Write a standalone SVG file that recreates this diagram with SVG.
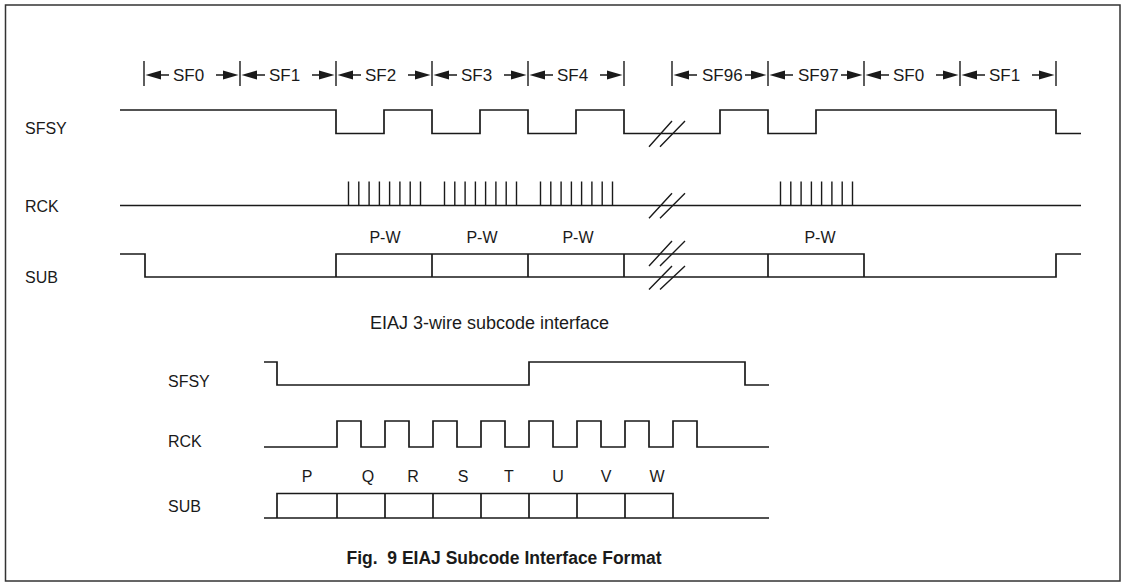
<svg xmlns="http://www.w3.org/2000/svg" width="1126" height="586" viewBox="0 0 1126 586">
<style>
  .w{fill:none;stroke:#1a1a1a;stroke-width:1.7;stroke-linejoin:miter}
  .t{fill:none;stroke:#1a1a1a;stroke-width:1.4}
  .ah{fill:#1a1a1a}
  text{font-family:"Liberation Sans",Arial,sans-serif;font-size:16px;fill:#1a1a1a}
  .sf{font-size:17px}
  .big{font-size:18px}
  .cap{font-weight:bold;font-size:17.5px}
</style>
<defs>
  <polygon id="al" points="1.5,0 17,-4.5 17,4.5"/>
  <polygon id="ar" points="-1.5,0 -17,-4.5 -17,4.5"/>
</defs>
<rect x="5.5" y="5" width="1114.5" height="576" fill="#fff" stroke="#333" stroke-width="1.5"/>

<g id="sf-ruler">
  <g class="t">
    <path d="M144,61V86M240,61V86M336,61V86M432,61V86M528,61V86M624,61V86M672,61V86M768,61V86M864,61V86M960,61V86M1056,61V86"/>
    <path d="M161,75H169M216,75H223M257,75H265M312,75H319M353,75H361M408,75H415M449,75H457M504,75H511M545,75H553M600,75H607M689,75H697M745,75H751M785,75H793M841,75H847M881,75H889M936,75H943M977,75H985M1032,75H1039"/>
  </g>
  <g class="ah">
    <use href="#al" x="144" y="75"/><use href="#ar" x="240" y="75"/>
    <use href="#al" x="240" y="75"/><use href="#ar" x="336" y="75"/>
    <use href="#al" x="336" y="75"/><use href="#ar" x="432" y="75"/>
    <use href="#al" x="432" y="75"/><use href="#ar" x="528" y="75"/>
    <use href="#al" x="528" y="75"/><use href="#ar" x="624" y="75"/>
    <use href="#al" x="672" y="75"/><use href="#ar" x="768" y="75"/>
    <use href="#al" x="768" y="75"/><use href="#ar" x="864" y="75"/>
    <use href="#al" x="864" y="75"/><use href="#ar" x="960" y="75"/>
    <use href="#al" x="960" y="75"/><use href="#ar" x="1056" y="75"/>
  </g>
  <text class="sf" x="173" y="81">SF0</text>
  <text class="sf" x="269" y="81">SF1</text>
  <text class="sf" x="365" y="81">SF2</text>
  <text class="sf" x="461" y="81">SF3</text>
  <text class="sf" x="557" y="81">SF4</text>
  <text class="sf" x="702" y="81">SF96</text>
  <text class="sf" x="798" y="81">SF97</text>
  <text class="sf" x="893" y="81">SF0</text>
  <text class="sf" x="989" y="81">SF1</text>
</g>

<g id="top-sfsy">
  <text x="25" y="134">SFSY</text>
  <path class="w" d="M120,110H336V133.5H384V110H432V133.5H480V110H528V133.5H576V110H624V133.5H720V110H768V133.5H816V110H1056V133.5H1081"/>
  <path class="t" d="M649,146.7L672,121M660,146.7L685,121"/>
</g>

<g id="top-rck">
  <text x="25" y="212">RCK</text>
  <path class="w" d="M120,205.5H1081"/>
  <path class="t" d="M348.5,181.5V205.5M358.8,181.5V205.5M369.1,181.5V205.5M379.4,181.5V205.5M389.6,181.5V205.5M399.9,181.5V205.5M410.2,181.5V205.5M420.5,181.5V205.5
  M444.5,181.5V205.5M454.8,181.5V205.5M465.1,181.5V205.5M475.4,181.5V205.5M485.6,181.5V205.5M495.9,181.5V205.5M506.2,181.5V205.5M516.5,181.5V205.5
  M540.5,181.5V205.5M550.8,181.5V205.5M561.1,181.5V205.5M571.4,181.5V205.5M581.6,181.5V205.5M591.9,181.5V205.5M602.2,181.5V205.5M612.5,181.5V205.5
  M780.5,181.5V205.5M790.8,181.5V205.5M801.1,181.5V205.5M811.4,181.5V205.5M821.6,181.5V205.5M831.9,181.5V205.5M842.2,181.5V205.5M852.5,181.5V205.5"/>
  <path class="t" d="M649,218.3L672,193.3M660,218.3L685,193.3"/>
</g>

<g id="top-sub">
  <text x="25" y="283">SUB</text>
  <path class="w" d="M120,254H145V277H1056V254H1081"/>
  <path class="w" d="M336,277V254H864V277M432,254V277M528,254V277M624,254V277M768,254V277"/>
  <path class="t" d="M649,266L672,241M660,266L685,241M649,289.5L672,266M660,289.5L685,266"/>
  <text x="385" y="243" text-anchor="middle">P-W</text>
  <text x="482" y="243" text-anchor="middle">P-W</text>
  <text x="578" y="243" text-anchor="middle">P-W</text>
  <text x="820" y="243" text-anchor="middle">P-W</text>
</g>

<text class="big" x="370" y="329">EIAJ 3-wire subcode interface</text>

<g id="bot-sfsy">
  <text x="168" y="387">SFSY</text>
  <path class="w" d="M264,362H277V385H529V362H745V385H769"/>
</g>

<g id="bot-rck">
  <text x="168" y="447">RCK</text>
  <path class="w" d="M264,447H337V421H361V447H385V421H409V447H433V421H457V447H481V421H505V447H529V421H553V447H577V421H601V447H625V421H649V447H673V421H697V447H769"/>
</g>

<g id="bot-sub">
  <text x="168" y="512">SUB</text>
  <path class="w" d="M264,518H769M277,518V493.5H673V518M337,493.5V518M385,493.5V518M433,493.5V518M481,493.5V518M529,493.5V518M577,493.5V518M625,493.5V518"/>
  <text x="307" y="482" text-anchor="middle">P</text>
  <text x="368" y="482" text-anchor="middle">Q</text>
  <text x="413" y="482" text-anchor="middle">R</text>
  <text x="463" y="482" text-anchor="middle">S</text>
  <text x="509" y="482" text-anchor="middle">T</text>
  <text x="558" y="482" text-anchor="middle">U</text>
  <text x="606" y="482" text-anchor="middle">V</text>
  <text x="657" y="482" text-anchor="middle">W</text>
</g>

<text class="cap" x="504" y="564" text-anchor="middle" xml:space="preserve">Fig.  9 EIAJ Subcode Interface Format</text>
</svg>
